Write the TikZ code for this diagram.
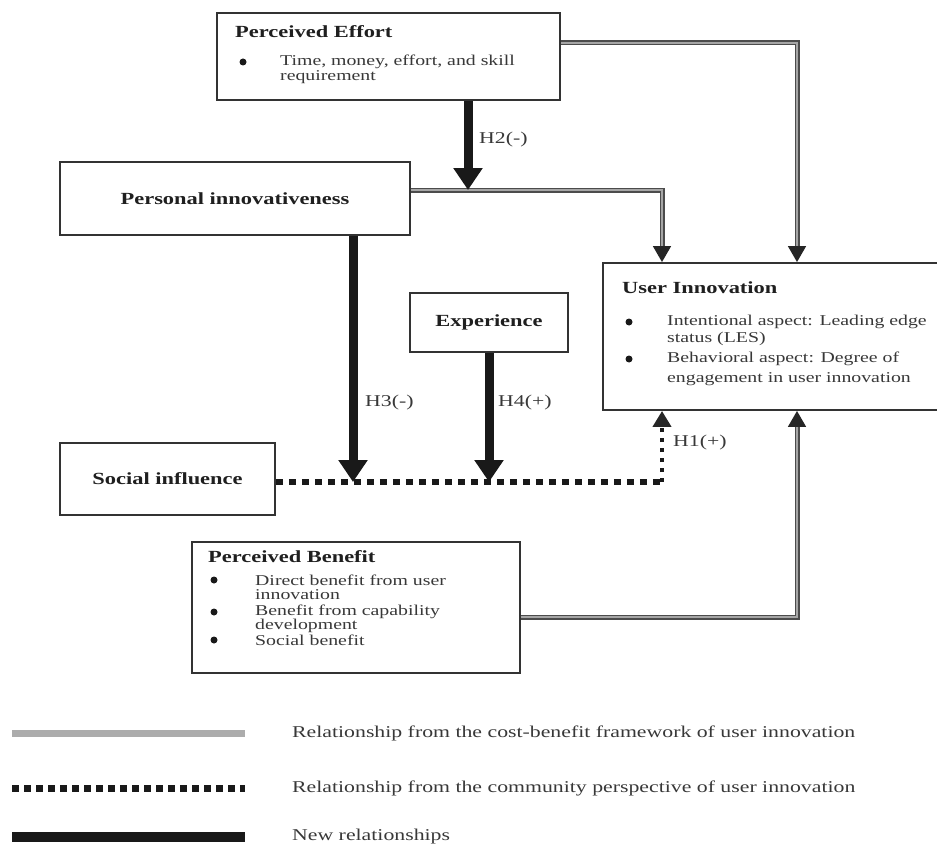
\documentclass[tikz,border=0pt]{standalone}
\usepackage{fontspec}
\setmainfont{Liberation Serif}[FakeStretch=1.32]
\usetikzlibrary{arrows.meta}
\definecolor{boxc}{HTML}{333333}
\definecolor{titc}{HTML}{1F1F1F}
\definecolor{bodc}{HTML}{383838}
\begin{document}
\begin{tikzpicture}[x=1pt,y=-1pt,
  box/.style={draw=boxc, line width=1.9pt, fill=white, inner sep=0pt},
  ttl/.style={anchor=west, inner sep=0pt, text=titc, font=\fontsize{17}{18}\selectfont\bfseries},
  bod/.style={anchor=west, inner sep=0pt, text=bodc, font=\fontsize{15}{16}\selectfont},
  lbl/.style={anchor=west, inner sep=0pt, text=bodc, font=\fontsize{16.5}{17}\selectfont},
  leg/.style={anchor=west, inner sep=0pt, text=bodc, font=\fontsize{16.5}{17}\selectfont},
  bul/.style={circle, fill=black!90, inner sep=0pt, minimum size=7pt},
  newrel/.style={line width=9pt, draw=black!90, -{Triangle[width=28pt,length=22pt]}},
  cb/.style={draw=gray!60!black, double=gray!70, double distance=1.8pt, line width=1.6pt,
             line join=miter, -{Triangle[width=18pt,length=16pt,color=black!85]}},
  comm/.style={draw=black!90, line width=6pt, dash pattern=on 7pt off 6pt},
  commv/.style={draw=black!90, line width=4pt, dash pattern=on 4pt off 6pt,
             -{Triangle[width=18pt,length=16pt,color=black!85]}},
  leggray/.style={draw=gray!65, line width=7pt},
  legdot/.style={draw=black!90, line width=7pt, dash pattern=on 7pt off 5pt},
  legblack/.style={draw=black!90, line width=10pt}
]
\useasboundingbox (0,0) rectangle (937,848);
\fill[white] (0,0) rectangle (937,848);
\clip (0,0) rectangle (937,848);

% boxes
\node[box, minimum width=343pt, minimum height=87pt] (pe) at (388.5,56.5) {};
\node[box, minimum width=350pt, minimum height=73pt, text=titc,
      font=\fontsize{17}{18}\selectfont\bfseries] (pi) at (235,198.5) {Personal innovativeness};
\node[box, minimum width=158pt, minimum height=59pt, text=titc,
      font=\fontsize{17}{18}\selectfont\bfseries] (ex) at (489,322.5) {Experience};
\node[box, minimum width=215pt, minimum height=72pt, text=titc,
      font=\fontsize{17}{18}\selectfont\bfseries] (si) at (167.5,479) {Social influence};
\node[box, minimum width=342pt, minimum height=147pt] (ui) at (774,336.5) {};
\node[box, minimum width=328pt, minimum height=131pt] (pb) at (356,607.5) {};

% texts: Perceived Effort
\node[ttl] (peT) at (235,32) {Perceived Effort};
\node[bul] (peB1) at (243,62) {};
\node[bod] (peL1) at (280,62) {Time, money, effort, and skill};
\node[bod] (peL2) at (280,77) {requirement};

% User Innovation
\node[ttl] (uiT) at (622,288) {User Innovation};
\node[bul] (uiB1) at (629,322) {};
\node[bod] (uiL1) at (667,322) {Intentional aspect: Leading edge};
\node[bod] (uiL2) at (667,339) {status (LES)};
\node[bul] (uiB2) at (629,359) {};
\node[bod] (uiL3) at (667,359) {Behavioral aspect: Degree of};
\node[bod] (uiL4) at (667,379) {engagement in user innovation};

% Perceived Benefit
\node[ttl] (pbT) at (208,557) {Perceived Benefit};
\node[bul] (pbB1) at (214,580) {};
\node[bod] (pbL1) at (255,580) {Direct benefit from user};
\node[bod] (pbL2) at (255,595) {innovation};
\node[bul] (pbB2) at (214,612) {};
\node[bod] (pbL3) at (255,612) {Benefit from capability};
\node[bod] (pbL4) at (255,626) {development};
\node[bul] (pbB3) at (214,640) {};
\node[bod] (pbL5) at (255,640) {Social benefit};

% helper coordinates
\coordinate (uiL) at (662,336);
\coordinate (uiR) at (797,336);
\coordinate (j2) at (468,190);
\coordinate (j3) at (353,482);
\coordinate (j4) at (489,482);
\coordinate (c1) at (662,482);

% cost-benefit relationships
\draw[cb] ([yshift=13.5pt]pe.east) -| (ui.north -| uiR);
\draw[cb] ([yshift=8.5pt]pi.east) -| (ui.north -| uiL);
\draw[cb] ([yshift=-9.5pt]pb.east) -| (ui.south -| uiR);

% community perspective
\draw[comm] ([yshift=-3pt]si.east) -- (c1);
\draw[commv] (c1) -- (ui.south -| uiL);

% new relationships
\draw[newrel] (pe.south -| j2) -- (j2);
\draw[newrel] (pi.south -| j3) -- (j3);
\draw[newrel] (ex.south) -- (j4);

% labels
\node[lbl] (h2) at (479,140) {H2(-)};
\node[lbl] (h3) at (365,403) {H3(-)};
\node[lbl] (h4) at (498,403) {H4(+)};
\node[lbl] (h1) at (673,443) {H1(+)};

% legend
\coordinate (la1) at (12,733); \coordinate (la2) at (245,733);
\coordinate (lb1) at (12,788); \coordinate (lb2) at (245,788);
\coordinate (lc1) at (12,837); \coordinate (lc2) at (245,837);
\draw[leggray] (la1) -- (la2);
\draw[legdot] (lb1) -- (lb2);
\draw[legblack] (lc1) -- (lc2);
\node[leg] (lt1) at (292,733) {Relationship from the cost-benefit framework of user innovation};
\node[leg] (lt2) at (292,788) {Relationship from the community perspective of user innovation};
\node[leg] (lt3) at (292,837) {New relationships};
\end{tikzpicture}
\end{document}
